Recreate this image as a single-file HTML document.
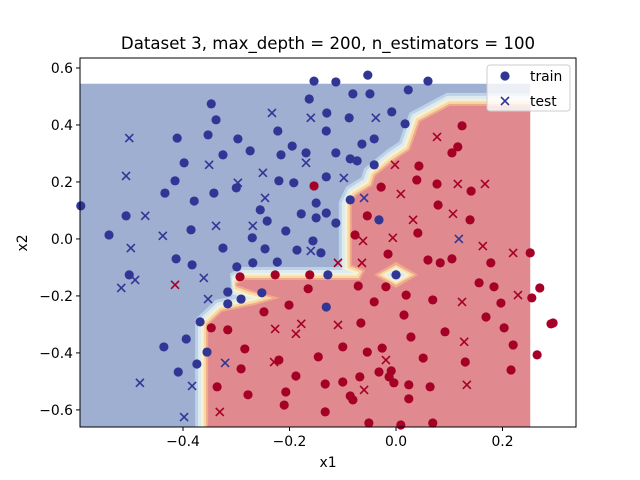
<!DOCTYPE html>
<html><head><meta charset="utf-8"><style>
body{margin:0;background:#fff;}
svg{display:block;font-family:"DejaVu Sans","Liberation Sans",sans-serif;}
</style></head><body>
<svg id="chart" width="640" height="480" viewBox="0 0 640 480" xmlns="http://www.w3.org/2000/svg">
<defs><clipPath id="regclip"><rect x="80" y="84" width="450" height="343"/></clipPath></defs>
<text x="328" y="49" font-size="16.6" text-anchor="middle">Dataset 3, max_depth = 200, n_estimators = 100</text>
<g id="region" clip-path="url(#regclip)"></g>
<g id="marks"></g>
<g id="axes"></g>
<rect x="80" y="58" width="496" height="369" fill="none" stroke="#000" stroke-width="1"/>
<g>
<rect x="487" y="65" width="83" height="46" rx="3" fill="#fff" fill-opacity="0.8" stroke="#ccc"/>
<circle cx="505" cy="76" r="4.6" fill="#313695"/>
<text x="530" y="81" font-size="13.9">train</text>
<path d="M501 97 L509 105 M509 97 L501 105" stroke="#313695" stroke-width="1.6"/>
<text x="530" y="106" font-size="13.9">test</text>
</g>
<text x="328" y="467" font-size="13.9" text-anchor="middle">x1</text>
<text x="27" y="243" font-size="13.9" text-anchor="middle" transform="rotate(-90 27 243)">x2</text>
</svg>
<script>
const xTicks=[-0.4,-0.2,0.0,0.2];
const yTicks=[-0.6,-0.4,-0.2,0.0,0.2,0.4,0.6];
const xDomain=[-0.5935,0.338];
const yDomain=[-0.66,0.635];
const trainBlue=[[-0.154,0.554],[-0.163,0.491],[-0.130,0.442],[-0.347,0.474],[-0.338,0.418],[-0.131,0.379],[-0.222,0.379],[-0.411,0.354],[-0.353,0.365],[-0.297,0.351],[-0.274,0.309],[-0.195,0.326],[-0.216,0.295],[-0.169,0.302],[-0.325,0.295],[-0.398,0.267],[-0.415,0.204],[-0.434,0.161],[-0.379,0.133],[-0.342,0.161],[-0.300,0.179],[-0.220,0.204],[-0.192,0.197],[-0.131,0.218],[-0.150,0.126],[-0.178,0.088],[-0.150,0.074],[-0.131,0.091],[-0.255,0.102],[-0.242,0.063],[-0.207,0.028],[-0.270,0.004],[-0.156,-0.007],[-0.592,0.116],[-0.507,0.081],[-0.539,0.014],[-0.385,0.032],[-0.113,0.551],[-0.053,0.575],[0.060,0.554],[-0.081,0.509],[-0.049,0.509],[0.023,0.523],[-0.088,0.425],[-0.008,0.446],[0.017,0.404],[-0.041,0.351],[-0.064,0.333],[-0.113,0.302],[-0.086,0.281],[-0.073,0.274],[-0.041,0.260],[-0.086,0.137],[-0.113,0.056],[-0.032,0.067],[-0.325,-0.032],[-0.246,-0.035],[-0.186,-0.039],[-0.141,-0.049],[-0.413,-0.070],[-0.383,-0.091],[-0.299,-0.098],[-0.269,-0.084],[-0.223,-0.081],[-0.501,-0.126],[-0.316,-0.186],[-0.291,-0.211],[-0.252,-0.189],[-0.316,-0.228],[-0.368,-0.291],[-0.394,-0.351],[-0.436,-0.379],[-0.355,-0.397],[-0.374,-0.439],[-0.409,-0.467],[-0.131,-0.239],[-0.128,-0.126],[0.0,-0.126]];
const trainRed=[[-0.154,0.186],[0.124,0.397],[0.116,0.323],[0.105,0.302],[0.043,0.256],[0.039,0.207],[0.077,0.193],[0.141,0.168],[-0.028,0.182],[0.079,0.119],[-0.054,0.081],[0.139,0.067],[0.041,0.021],[-0.077,0.014],[-0.293,-0.133],[-0.227,-0.126],[-0.162,-0.126],[-0.165,-0.175],[-0.201,-0.232],[-0.248,-0.256],[-0.347,-0.312],[-0.316,-0.319],[-0.284,-0.386],[-0.220,-0.425],[-0.146,-0.414],[-0.291,-0.456],[-0.188,-0.481],[-0.133,-0.509],[-0.336,-0.519],[-0.278,-0.547],[-0.207,-0.537],[-0.210,-0.583],[-0.133,-0.607],[-0.015,-0.053],[0.060,-0.074],[0.083,-0.084],[0.105,-0.070],[0.178,-0.084],[0.252,-0.049],[-0.071,-0.165],[-0.019,-0.168],[0.019,-0.197],[-0.041,-0.221],[0.069,-0.214],[0.156,-0.154],[0.184,-0.168],[0.197,-0.225],[0.270,-0.172],[0.255,-0.207],[0.015,-0.267],[0.169,-0.274],[-0.066,-0.295],[0.203,-0.312],[0.291,-0.298],[0.295,-0.295],[0.028,-0.344],[0.092,-0.326],[-0.100,-0.379],[-0.054,-0.397],[-0.026,-0.383],[0.220,-0.372],[0.265,-0.407],[0.051,-0.418],[0.130,-0.432],[-0.032,-0.467],[-0.009,-0.463],[-0.013,-0.484],[-0.068,-0.484],[-0.004,-0.505],[0.024,-0.512],[0.064,-0.519],[-0.100,-0.502],[0.216,-0.460],[-0.086,-0.551],[-0.081,-0.565],[0.024,-0.561],[-0.051,-0.646],[0.009,-0.653],[0.069,-0.646]];
const testBlue=[[-0.233,0.442],[-0.160,0.425],[-0.501,0.354],[-0.351,0.260],[-0.507,0.221],[-0.250,0.232],[-0.297,0.197],[-0.169,0.267],[-0.246,0.144],[-0.471,0.081],[-0.338,0.046],[-0.269,0.046],[-0.438,0.011],[-0.038,0.425],[-0.098,0.214],[-0.060,0.144],[0.118,0.0],[-0.498,-0.032],[-0.490,-0.144],[-0.516,-0.172],[-0.361,-0.137],[-0.353,-0.211],[-0.481,-0.505],[-0.383,-0.516],[-0.398,-0.625],[-0.321,-0.435],[-0.160,-0.042]];
const testRed=[[0.077,0.358],[-0.002,0.260],[0.116,0.193],[0.167,0.193],[0.009,0.158],[0.107,0.088],[0.032,0.067],[-0.006,0.004],[-0.062,-0.007],[-0.415,-0.161],[-0.227,-0.316],[-0.178,-0.298],[-0.188,-0.333],[-0.229,-0.432],[-0.331,-0.607],[0.163,-0.025],[0.220,-0.049],[-0.109,-0.084],[-0.064,-0.084],[0.124,-0.221],[0.229,-0.197],[-0.109,-0.302],[0.128,-0.361],[-0.019,-0.425],[-0.060,-0.530],[0.133,-0.512]];
const regionBox=[[-0.5935,0.545],[0.252,-0.66]];
const redBoundary=[[0.252,0.467],[0.101,0.467],[0.045,0.411],[0.026,0.312],[-0.002,0.277],[-0.039,0.221],[-0.045,0.186],[-0.075,0.151],[-0.083,0.119],[-0.083,-0.091],[-0.058,-0.109],[-0.068,-0.144],[-0.284,-0.144],[-0.300,-0.161],[-0.274,-0.179],[-0.218,-0.207],[-0.265,-0.232],[-0.327,-0.256],[-0.353,-0.302],[-0.353,-0.70],[0.30,-0.70],[0.30,0.467]];
const blueIsland=[0.0,-0.126];

const NS="http://www.w3.org/2000/svg";
const X0=80,X1=576,Y0=58,Y1=427;
const sx=v=>X0+(v-xDomain[0])/(xDomain[1]-xDomain[0])*(X1-X0);
const sy=v=>Y1-(v-yDomain[0])/(yDomain[1]-yDomain[0])*(Y1-Y0);
function mk(tag,attrs,parent){const e=document.createElementNS(NS,tag);for(const k in attrs)e.setAttribute(k,attrs[k]);parent.appendChild(e);return e;}

const region=document.getElementById('region');
const bx=sx(regionBox[0][0]),by=sy(regionBox[0][1]);
const bg=mk('rect',{x:bx,y:by,width:sx(regionBox[1][0])-bx,height:sy(regionBox[1][1])-by,fill:'#9eafd2'},region);


const clipR=document.querySelector('#regclip rect');
clipR.setAttribute('x',bx);clipR.setAttribute('y',by);clipR.setAttribute('width',sx(regionBox[1][0])-bx);clipR.setAttribute('height',sy(regionBox[1][1])-by);
const pts=redBoundary.map(p=>sx(p[0]).toFixed(1)+','+sy(p[1]).toFixed(1)).join(' ');
const bands=[[26,'#bcd3e6'],[20,'#dfeaf0'],[14,'#f6f2cf'],[9,'#f8d9a6'],[4,'#f0a98a']];
bands.forEach(b=>{const p=mk('polygon',{points:pts,fill:'none',stroke:b[1],'stroke-width':b[0],'stroke-linejoin':'miter','stroke-miterlimit':2},region);

});
const rp=mk('polygon',{points:pts,fill:'#e08a8f'},region);


const icx=sx(blueIsland[0]),icy=sy(blueIsland[1]);
[[22,13,'#f0a98a'],[18,10,'#f8d9a6'],[14,8,'#f6f2cf'],[10,6,'#dfeaf0'],[6,4,'#bcd3e6']].forEach(d=>{
const q=mk('polygon',{points:`${icx-d[0]},${icy} ${icx},${icy-d[1]} ${icx+d[0]},${icy} ${icx},${icy+d[1]}`,fill:d[2]},region);

});

const marks=document.getElementById('marks');
function circles(arr,col,name){arr.forEach(p=>{const c=mk('circle',{cx:sx(p[0]),cy:sy(p[1]),r:4.6,fill:col},marks);

});}
function crosses(arr,col,name){arr.forEach(p=>{const x=sx(p[0]),y=sy(p[1]),s=4;
const c=mk('path',{d:`M${x-s} ${y-s} L${x+s} ${y+s} M${x+s} ${y-s} L${x-s} ${y+s}`,stroke:col,'stroke-width':1.6,fill:'none'},marks);

});}
circles(trainBlue,'#313695','train-point-class0');
circles(trainRed,'#a50026','train-point-class1');
crosses(testBlue,'#313695','test-point-class0');
crosses(testRed,'#a50026','test-point-class1');

const axes=document.getElementById('axes');
xTicks.forEach(t=>{const x=sx(t);
const l=mk('line',{x1:x,x2:x,y1:Y1,y2:Y1+4,stroke:'#000'},axes);


const tx=mk('text',{x:x,y:Y1+19,'font-size':13.9,'text-anchor':'middle'},axes);
tx.textContent=(t<0?'\u2212':'')+Math.abs(t).toFixed(1);

});
yTicks.forEach(t=>{const y=sy(t);
const l=mk('line',{x1:X0-4,x2:X0,y1:y,y2:y,stroke:'#000'},axes);


const tx=mk('text',{x:X0-7,y:y+5,'font-size':13.9,'text-anchor':'end'},axes);
tx.textContent=(t<0?'\u2212':'')+Math.abs(t).toFixed(1);

});
</script>
</body></html>
